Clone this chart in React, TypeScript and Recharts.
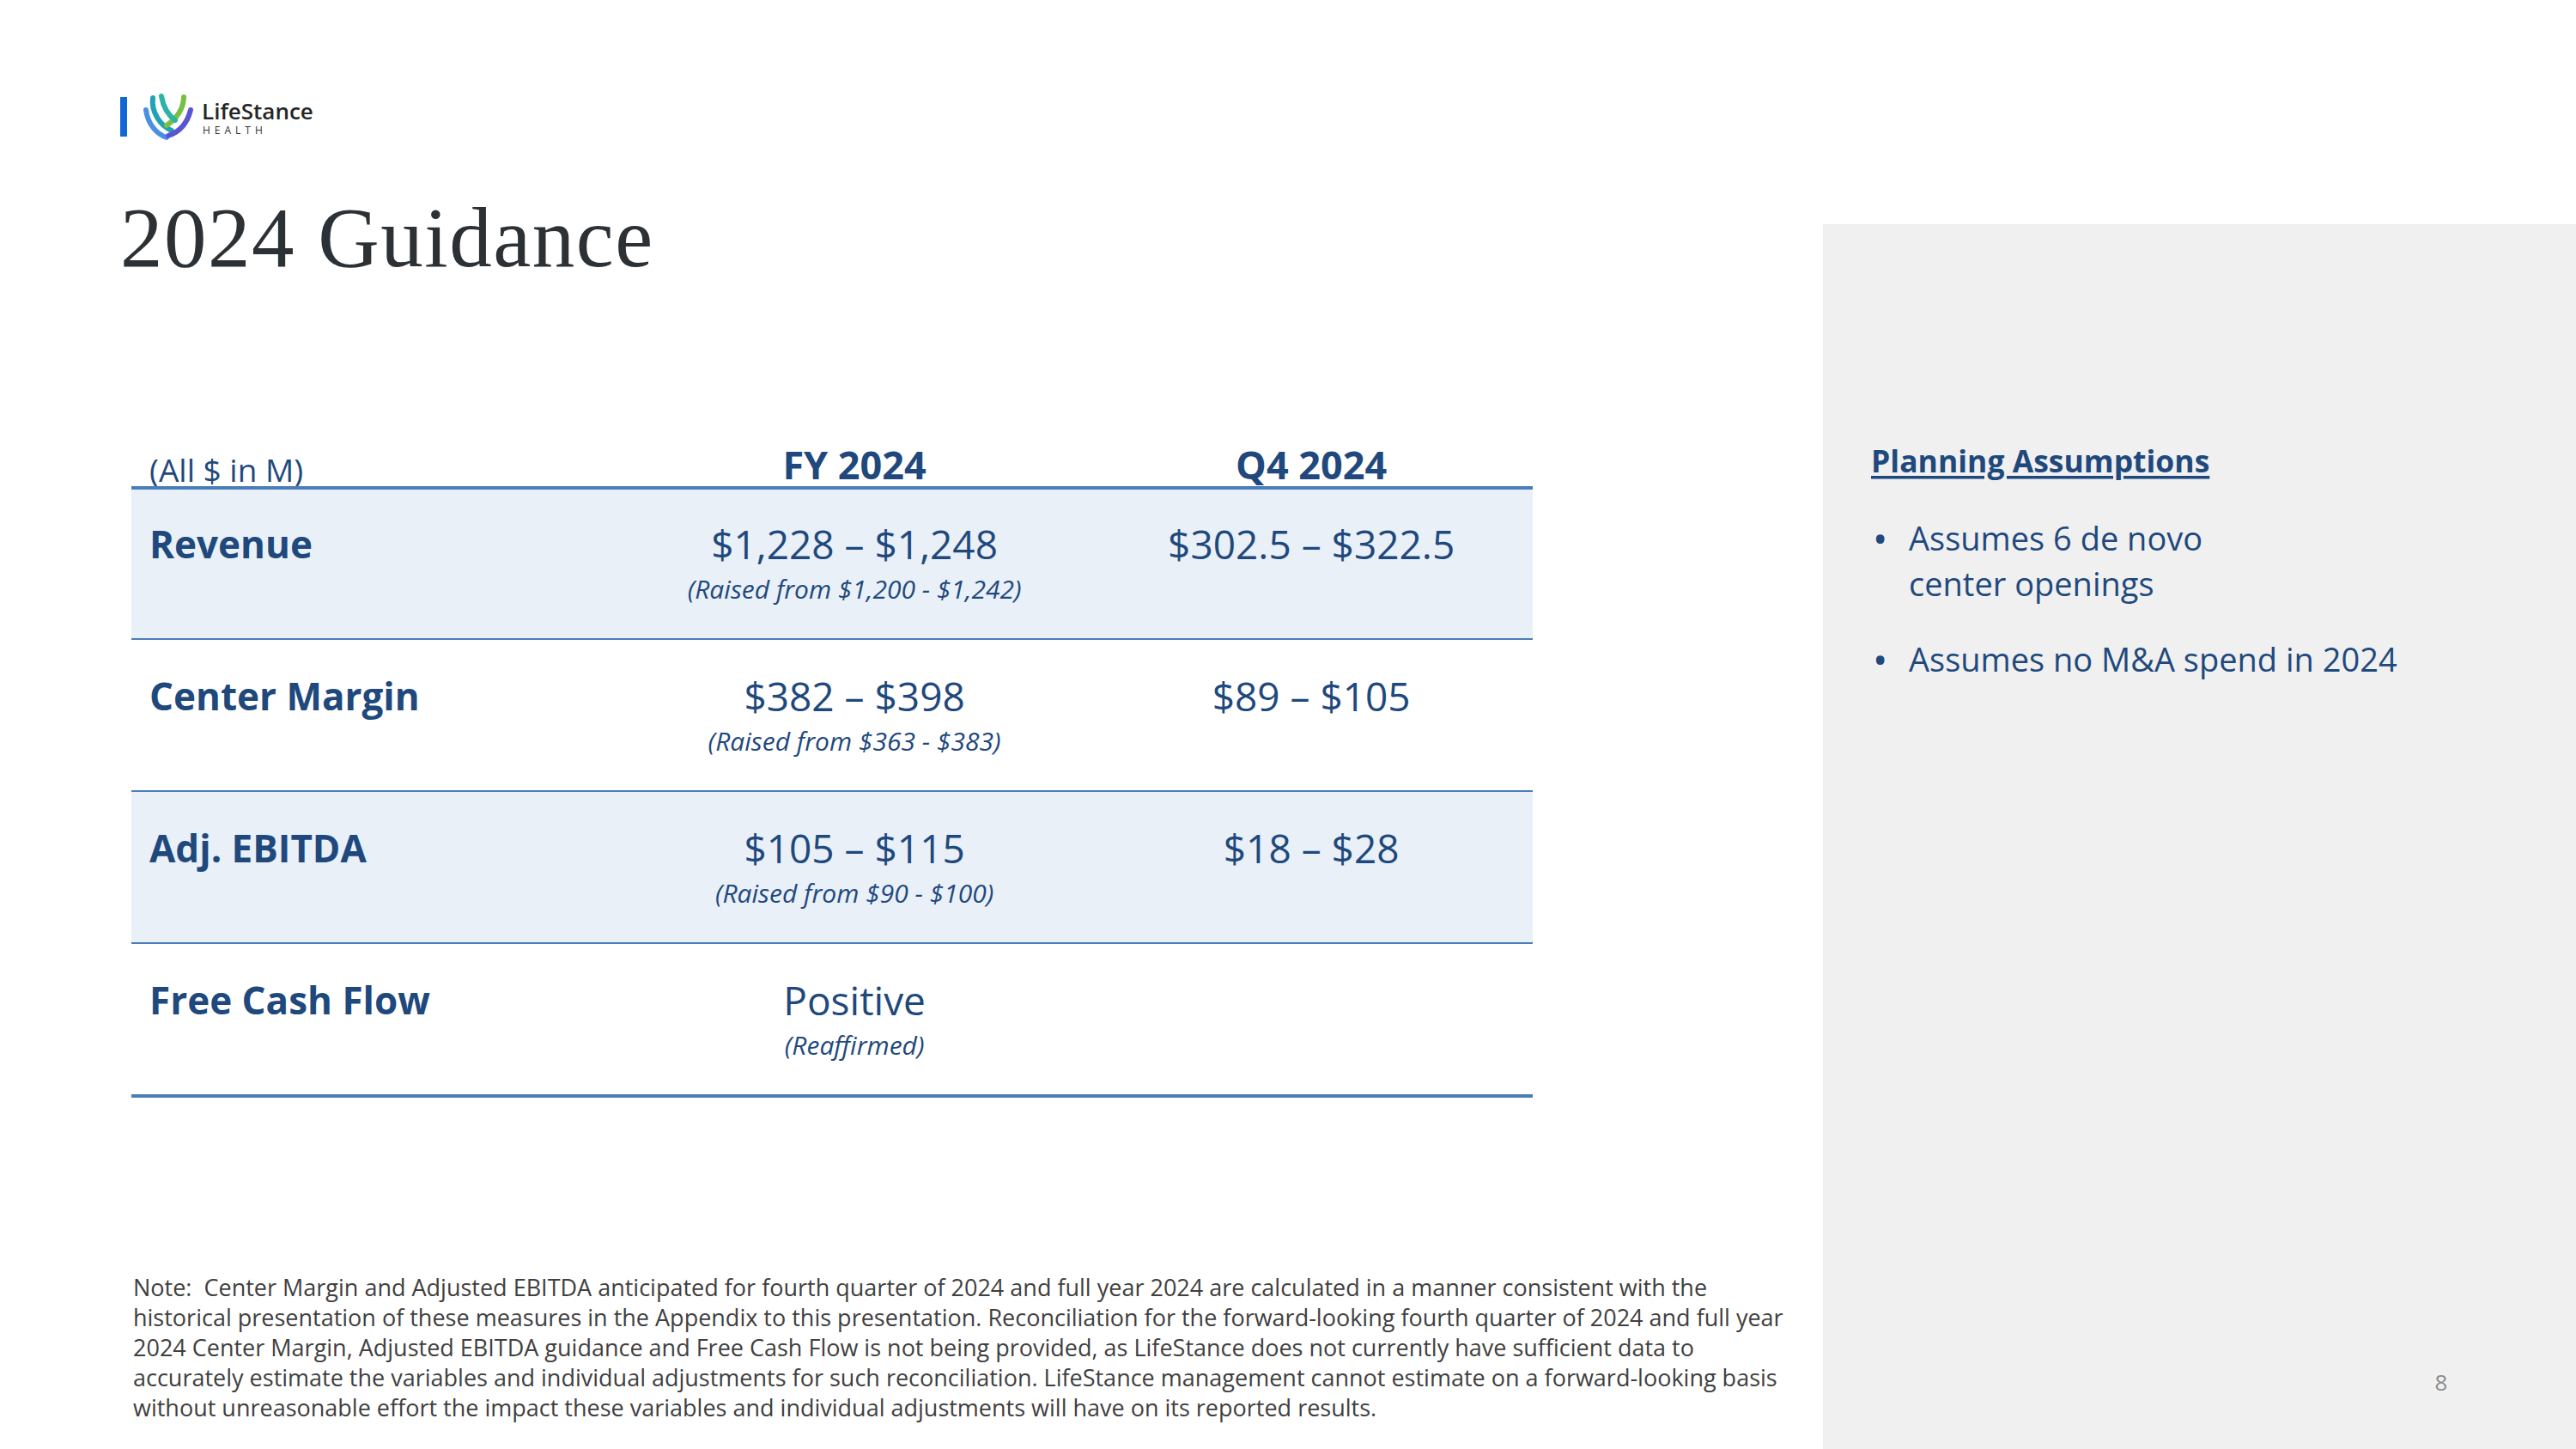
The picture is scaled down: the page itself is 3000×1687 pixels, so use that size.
import { BarChart, Bar, XAxis, YAxis } from 'recharts'

const metrics = ['Revenue', 'Center Margin', 'Adj. EBITDA', 'Free Cash Flow']
const fyGuidance = ['$1,228 – $1,248', '$382 – $398', '$105 – $115', 'Positive']
const fyNotes = [
  '(Raised from $1,200 - $1,242)',
  '(Raised from $363 - $383)',
  '(Raised from $90 - $100)',
  '(Reaffirmed)',
]
const q4Guidance = ['$302.5 – $322.5', '$89 – $105', '$18 – $28', '']
const columnHeaders = ['(All $ in M)', 'FY 2024', 'Q4 2024']

const assumptions = [['Assumes 6 de novo', 'center openings'], ['Assumes no M&A spend in 2024']]

const noteLines = [
  'Note:  Center Margin and Adjusted EBITDA anticipated for fourth quarter of 2024 and full year 2024 are calculated in a manner consistent with the',
  'historical presentation of these measures in the Appendix to this presentation. Reconciliation for the forward-looking fourth quarter of 2024 and full year',
  '2024 Center Margin, Adjusted EBITDA guidance and Free Cash Flow is not being provided, as LifeStance does not currently have sufficient data to',
  'accurately estimate the variables and individual adjustments for such reconciliation. LifeStance management cannot estimate on a forward-looking basis',
  'without unreasonable effort the impact these variables and individual adjustments will have on its reported results.',
]

const rows = metrics.map((metric, i) => ({
  metric,
  fy: fyGuidance[i],
  fyNote: fyNotes[i],
  q4: q4Guidance[i],
  span: 1,
}))

const FONT = "'Open Sans', 'Noto Sans', sans-serif"
const NAVY = '#1F497D'
const BAND = '#E9F0F8'
const RULE = '#4A7EBB'

const TABLE_LEFT = 153
const TABLE_TOP = 568
const TABLE_WIDTH = 1632
const TABLE_HEIGHT = 708
const FY_FRAC = 0.516
const Q4_FRAC = 0.842

function RowShape(props: any) {
  const { x, y, width, height, payload } = props
  const idx = metrics.indexOf(payload.metric)
  const fyX = x + width * FY_FRAC
  const q4X = x + width * Q4_FRAC
  return (
    <g fontFamily={FONT} fill={NAVY}>
      <rect x={x} y={y} width={width} height={height} fill={idx % 2 === 0 ? BAND : '#ffffff'} />
      {idx === 0 && <line x1={x} x2={x + width} y1={y} y2={y} stroke={RULE} strokeWidth={4} />}
      <line x1={x} x2={x + width} y1={y + height} y2={y + height} stroke={RULE} strokeWidth={4} />
      <text x={x + 21} y={y + 65} fontSize={44} fontWeight={700} dominantBaseline="central">
        {payload.metric}
      </text>
      <text x={fyX} y={y + 65} fontSize={46} textAnchor="middle" dominantBaseline="central">
        {payload.fy}
      </text>
      <text x={fyX} y={y + 117} fontSize={30} fontStyle="italic" textAnchor="middle" dominantBaseline="central">
        {payload.fyNote}
      </text>
      {payload.q4 && (
        <text x={q4X} y={y + 65} fontSize={46} textAnchor="middle" dominantBaseline="central">
          {payload.q4}
        </text>
      )}
    </g>
  )
}

function Logo() {
  return (
    <g>
      <rect x={140} y={113} width={8} height={46} fill="#1167D6" />
      <g fill="none" strokeLinecap="round" strokeWidth={6}>
        <path d="M178 114 C 176 130, 186 146, 200 152" stroke="#1FA2B5" />
        <path d="M214 113 C 214 126, 206 138, 194 146" stroke="#78C043" />
        <path d="M170 128 C 172 144, 182 156, 194 160" stroke="#4A90E2" />
        <path d="M222 128 C 218 144, 208 154, 196 158" stroke="#5A55D2" />
        <path d="M188 112 C 190 124, 196 134, 204 140" stroke="#2BB3A8" />
      </g>
      <text x={235} y={129} fontFamily={FONT} fontSize={26} fontWeight={600} fill="#262626" dominantBaseline="central">
        LifeStance
      </text>
      <text x={236} y={151} fontFamily={FONT} fontSize={12} letterSpacing={5} fill="#333" dominantBaseline="central">
        HEALTH
      </text>
    </g>
  )
}

export default function App() {
  const fyCenter = TABLE_LEFT + TABLE_WIDTH * FY_FRAC
  const q4Center = TABLE_LEFT + TABLE_WIDTH * Q4_FRAC
  return (
    <div style={{ position: 'absolute', left: 0, top: 0, width: 3000, height: 1687, background: '#fff', overflow: 'hidden' }}>
      <svg width={3000} height={1687} style={{ position: 'absolute', left: 0, top: 0 }}>
        <rect x={2123} y={261} width={877} height={1426} fill="#F0F0F0" />
        <Logo />
        <text x={140} y={310} fontFamily="'Liberation Serif', 'DejaVu Serif', serif" fontSize={99} letterSpacing={1.5} fill="#2C3136">
          2024 Guidance
        </text>

        <g fontFamily={FONT} fill={NAVY} dominantBaseline="central">
          <text x={TABLE_LEFT + 21} y={546} fontSize={37}>
            {columnHeaders[0]}
          </text>
          <text x={fyCenter} y={540} fontSize={45} fontWeight={700} textAnchor="middle">
            {columnHeaders[1]}
          </text>
          <text x={q4Center} y={540} fontSize={45} fontWeight={700} textAnchor="middle">
            {columnHeaders[2]}
          </text>
        </g>

        <g fontFamily={FONT} fill={NAVY} dominantBaseline="central">
          <text x={2179} y={536} fontSize={35.5} fontWeight={700} style={{ textDecoration: 'underline' }}>
            Planning Assumptions
          </text>
          {assumptions.map((lines, i) => {
            const top = i === 0 ? 626 : 767
            return (
              <g key={i}>
                <text x={2181} y={top} fontSize={46}>
                  •
                </text>
                {lines.map((ln, j) => (
                  <text key={j} x={2223} y={top + j * 53} fontSize={38}>
                    {ln}
                  </text>
                ))}
              </g>
            )
          })}
        </g>

        <g fontFamily={FONT} fill="#404040" fontSize={27} dominantBaseline="central">
          {noteLines.map((ln, i) => (
            <text key={i} x={155} y={1498 + i * 35} style={{ whiteSpace: 'pre' }}>
              {ln}
            </text>
          ))}
        </g>
        <text x={2843} y={1609} fontFamily={FONT} fontSize={26} fill="#8C8C8C" textAnchor="middle" dominantBaseline="central">
          8
        </text>
      </svg>

      <div style={{ position: 'absolute', left: TABLE_LEFT, top: TABLE_TOP - 4 }}>
        <BarChart
          width={TABLE_WIDTH}
          height={TABLE_HEIGHT + 8}
          data={rows}
          layout="vertical"
          margin={{ top: 4, right: 0, bottom: 4, left: 0 }}
          barCategoryGap={0}
        >
          <XAxis type="number" domain={[0, 1]} hide />
          <YAxis type="category" dataKey="metric" hide />
          <Bar dataKey="span" isAnimationActive={false} shape={RowShape} />
        </BarChart>
      </div>
    </div>
  )
}
